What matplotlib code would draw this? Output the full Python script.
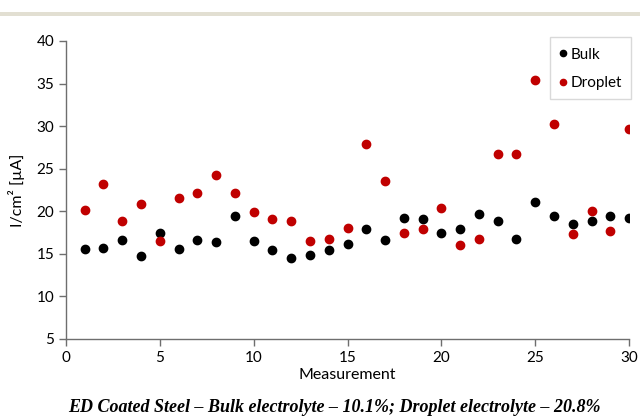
import matplotlib.pyplot as plt
from matplotlib.patches import Rectangle

measurement = list(range(1, 31))
bulk = [15.6, 15.7, 16.6, 14.8, 17.4, 15.6, 16.6, 16.4, 19.45, 16.5,
        15.4, 14.5, 14.9, 15.5, 16.2, 17.9, 16.6, 19.2, 19.05, 17.5,
        17.9, 19.65, 18.8, 16.75, 21.1, 19.5, 18.5, 18.8, 19.4, 19.25]
droplet = [20.1, 23.25, 18.8, 20.8, 16.5, 21.6, 22.1, 24.3, 22.2, 19.95,
           19.05, 18.85, 16.5, 16.8, 18.0, 27.95, 23.5, 17.45, 17.95, 20.4,
           16.0, 16.7, 26.7, 26.7, 35.4, 30.2, 17.3, 20.0, 17.65, 29.65]
caption = "ED Coated Steel \u2013 Bulk electrolyte \u2013 10.1%; Droplet electrolyte \u2013 20.8%"

plt.rcParams['font.family'] = ['Lato', 'DejaVu Sans']

fig = plt.figure(figsize=(6.4, 4.18), dpi=100)
ax = fig.add_axes([0.103, 0.189, 0.880, 0.713])

ax.scatter(measurement, bulk, s=36, color='black', label='Bulk', zorder=3)
ax.scatter(measurement, droplet, s=36, color='#c00000', label='Droplet', zorder=3)

ax.set_xlim(0, 30)
ax.set_ylim(5, 40)
ax.set_xticks(range(0, 31, 5))
ax.set_yticks(range(5, 41, 5))
for side in ('top', 'right'):
    ax.spines[side].set_visible(False)
for side in ('left', 'bottom'):
    ax.spines[side].set_color('#6e6e6e')
    ax.spines[side].set_linewidth(1.0)
ax.tick_params(axis='both', colors='#6e6e6e', labelcolor='black',
               labelsize=11, length=5, width=1.0)
ax.set_xlabel('Measurement', fontsize=11.5, labelpad=2)
ax.set_ylabel('I/cm\u00b2 [\u00b5A]', fontsize=11.5, labelpad=8)

leg = ax.legend(loc='upper right', bbox_to_anchor=(1.003, 1.012), fontsize=11,
                handletextpad=0.15, handlelength=0.6, handleheight=1.0,
                borderpad=0.6, labelspacing=0.85, markerscale=0.75,
                borderaxespad=0, fancybox=False, framealpha=1)
leg.get_frame().set_edgecolor('#d9d9d9')
leg.get_frame().set_linewidth(1.0)

# thin beige band across the top
fig.add_artist(Rectangle((0, 1 - 16 / 418), 1, 4 / 418, transform=fig.transFigure,
                         color='#e2dfd2', lw=0))

fig.text(0.522, 0.024, caption, ha='center', va='center',
         family='Liberation Serif', style='italic', weight='bold', fontsize=13)

fig.savefig('out.png', dpi=100)
